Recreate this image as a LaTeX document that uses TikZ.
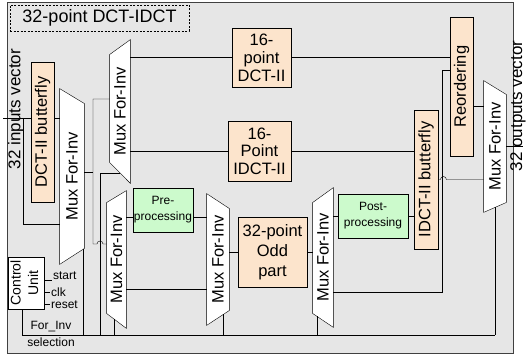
\documentclass[tikz,border=0pt]{standalone}
\usepackage{fontspec}
\setmainfont{Liberation Sans}
\usetikzlibrary{positioning, calc, backgrounds}

\definecolor{peach}{RGB}{252,228,204}
\definecolor{lgreen}{RGB}{204,250,204}
\definecolor{panel}{RGB}{230,230,230}

\tikzset{
	blk/.style={draw, fill=peach, inner sep=0pt, align=center},
	proc/.style={draw, fill=lgreen, inner sep=0pt, align=center, font=\fontsize{12}{16}\selectfont},
	mux/.style={inner sep=0pt},
	muxbody/.style={draw, fill=white},
	lbl/.style={inner sep=0.5pt, font=\fontsize{12}{14}\selectfont},
}

\begin{document}
\begin{tikzpicture}[x=1pt, y=-1pt, line width=0.85pt, font=\fontsize{16.5}{19}\selectfont]
	\useasboundingbox (0,0) rectangle (527,358);
	\node[draw, line width=0.7pt, dash pattern=on 2pt off 1.5pt, minimum width=179pt, minimum height=26pt, font=\fontsize{18}{20}\selectfont] (title) at (99.5,18) {32-point DCT-IDCT};
	\node[rotate=90, font=\fontsize{17}{19}\selectfont] (invec) at (16,109) {32 inputs vector};
	\node[rotate=90, font=\fontsize{17}{19}\selectfont] (outvec) at (518,106) {32 outputs vector};

	% processing blocks
	\node[blk, minimum width=23pt, minimum height=140pt] (bflyA) at (42.5,132) {\rotatebox{90}{DCT-II butterfly}};
	\node[blk, minimum width=59pt, minimum height=59pt, font=\fontsize{16.5}{18}\selectfont] (dct16) at (261.5,57.5) {16-\\point\\DCT-II};
	\node[blk, minimum width=63pt, minimum height=60pt, font=\fontsize{16.5}{17.5}\selectfont] (idct16) at (259.5,151) {16-\\Point\\IDCT-II};
	\node[blk, minimum width=23pt, minimum height=139pt] (reord) at (461.5,86.5) {\rotatebox{90}{Reordering}};
	\node[blk, minimum width=24pt, minimum height=139pt] (bflyB) at (426,179.5) {\rotatebox{90}{IDCT-II butterfly}};
	\node[blk, minimum width=69pt, minimum height=70pt, font=\fontsize{16.5}{20}\selectfont] (odd) at (272.5,252) {32-point\\Odd\\part};
	\node[proc, minimum width=60pt, minimum height=44pt] (pre) at (163,210) {Pre-\\processing};
	\node[proc, minimum width=70pt, minimum height=44pt] (post) at (373,216) {Post-\\processing};

	% multiplexers
	\node[mux, minimum width=24pt, minimum height=175pt] (muxA) at (72,176.5) {\rotatebox{90}{Mux For-Inv}};
	\node[mux, minimum width=20pt, minimum height=143pt] (muxB) at (120,111.5) {\rotatebox{90}{Mux For-Inv}};
	\node[mux, minimum width=19pt, minimum height=137pt] (muxC) at (116.5,259.5) {\rotatebox{90}{Mux For-Inv}};
	\node[mux, minimum width=22pt, minimum height=131pt] (muxD) at (218,259.5) {\rotatebox{90}{Mux For-Inv}};
	\node[mux, minimum width=20pt, minimum height=139pt] (muxE) at (323,257.5) {\rotatebox{90}{Mux For-Inv}};
	\node[mux, minimum width=22pt, minimum height=131pt] (muxF) at (495,146.5) {\rotatebox{90}{Mux For-Inv}};

	\node[draw, fill=white, minimum width=36pt, minimum height=52pt, inner sep=0pt, font=\fontsize{14}{17.5}\selectfont] (ctrl) at (26,283) {\rotatebox{90}{\begin{tabular}{@{}c@{}}Control\\Unit\end{tabular}}};

	\begin{pgfonlayer}{background}
		\draw[fill=panel, draw=black!75, line width=1pt] (7,3) rectangle (513,353);
		\draw[muxbody] (muxA.north west) -- ($(muxA.north east)+(0,15)$) -- ($(muxA.south east)+(0,-16)$) coordinate (muxA-br) -- (muxA.south west) coordinate (muxA-bl) -- cycle;
		\draw[muxbody] ($(muxB.north west)+(0,15)$) -- (muxB.north east) -- (muxB.south east) coordinate (muxB-br) -- ($(muxB.south west)+(0,-21)$) coordinate (muxB-bl) -- cycle;
		\draw[muxbody] ($(muxC.north west)+(0,12)$) -- (muxC.north east) -- (muxC.south east) coordinate (muxC-br) -- ($(muxC.south west)+(0,-15)$) coordinate (muxC-bl) -- cycle;
		\draw[muxbody] (muxD.north west) -- ($(muxD.north east)+(0,15)$) -- ($(muxD.south east)+(0,-15)$) coordinate (muxD-br) -- (muxD.south west) coordinate (muxD-bl) -- cycle;
		\draw[muxbody] ($(muxE.north west)+(0,15)$) -- (muxE.north east) -- (muxE.south east) coordinate (muxE-br) -- ($(muxE.south west)+(0,-14)$) coordinate (muxE-bl) -- cycle;
		\draw[muxbody] (muxF.north west) -- ($(muxF.north east)+(0,14)$) -- ($(muxF.south east)+(0,-10)$) coordinate (muxF-br) -- (muxF.south west) coordinate (muxF-bl) -- cycle;
	\end{pgfonlayer}

	\coordinate (in) at (3,118);
	\coordinate (tap) at (23,118);
	\coordinate (jA) at (93,172.5);
	\coordinate (jC) at (93,244);
	\coordinate (busL) at (22,335);
	\coordinate (busR) at (495,335);
	\coordinate (bB) at (100,335);
	\coordinate (out) at (523,144);

	% forward path
	\draw (in) -- (in -| bflyA.west);
	\draw (in -| bflyA.east) -- (in -| muxA.west);
	\draw (tap) |- ($(muxA.west)+(0,47.5)$);
	\draw (muxA.east |- jA) -- (jA);
	\draw ($(muxB.west)+(0,-12.5)$) -| (jC) -- ++(4,0) arc[start angle=180, end angle=0, radius=3pt] -- (jC -| muxC.west);
	\draw (muxB.east |- dct16.west) -- (dct16.west);
	\draw (muxB.east |- idct16.west) -- (idct16.west);
	\draw (dct16.east) -- (dct16.east -| reord.west);
	\draw (idct16.east) -- (idct16.east -| bflyB.west);
	\coordinate (rOut) at ($(reord.east)+(0,19.5)$);
	\draw (rOut) -- (rOut -| muxF.west);
	\draw (bflyB.east) -- ++(2,0) arc[start angle=180, end angle=0, radius=3pt] -- (bflyB.east -| muxF.west);
	\draw (muxF.east) -- (muxF.east -| out);

	% odd part
	\coordinate (preIn) at ($(pre.north west)!0.66!(pre.south west)$);
	\coordinate (preOut) at ($(pre.north east)!0.66!(pre.south east)$);
	\draw (preIn -| muxC.east) -- (preIn);
	\draw (preOut) -- (preOut -| muxD.west);
	\coordinate (cByp) at ($(muxC.east)+(0,29.5)$);
	\draw (cByp) -- (cByp -| muxD.west);
	\draw (odd.west -| muxD.east) -- (odd.west);
	\draw (odd.east) -- (odd.east -| muxE.west);
	\draw (post.west -| muxE.east) -- (post.west);
	\draw (post.east) -- (post.east -| bflyB.west);
	\coordinate (eByp) at ($(muxE.east)+(0,34.5)$);
	\coordinate (rIn) at ($(reord.west)+(0,-16.5)$);
	\draw (eByp) -| ($(rIn)+(-7,0)$) -- (rIn);

	% control
	\draw (ctrl.south -| busL) -- (busL) -- (busR);
	\path ($(muxA-bl)!0.96!(muxA-br)$) coordinate (sA);
	\draw (sA) -- (sA |- busL);
	\path ($(muxB-bl)!0.5!(muxB-br)$) coordinate (sB);
	\draw (sB) -| (bB);
	\path ($(muxC-bl)!0.37!(muxC-br)$) coordinate (sC);
	\draw (sC) -- (sC |- busL);
	\path ($(muxD-bl)!0.73!(muxD-br)$) coordinate (sD);
	\draw (sD) -- (sD |- busL);
	\path ($(muxE-bl)!0.2!(muxE-br)$) coordinate (sE);
	\draw (sE) -- (sE |- busL);
	\path ($(muxF-bl)!0.5!(muxF-br)$) coordinate (sF);
	\draw (sF) -- (sF |- busL);

	\draw ($(ctrl.north east)+(0,24)$) -- ++(8,0) node[lbl, anchor=south west] (start) {start};
	\draw ($(ctrl.north east)+(0,36)$) -- ++(6,0) node[lbl, right] (clk) {clk};
	\draw ($(ctrl.north east)+(0,48)$) -- ++(6,0) node[lbl, right] (reset) {reset};
	\node[lbl] (forinv) at (51,327) {For\_Inv};
	\node[lbl, below=4pt of forinv] (selection) {selection};
\end{tikzpicture}
\end{document}
